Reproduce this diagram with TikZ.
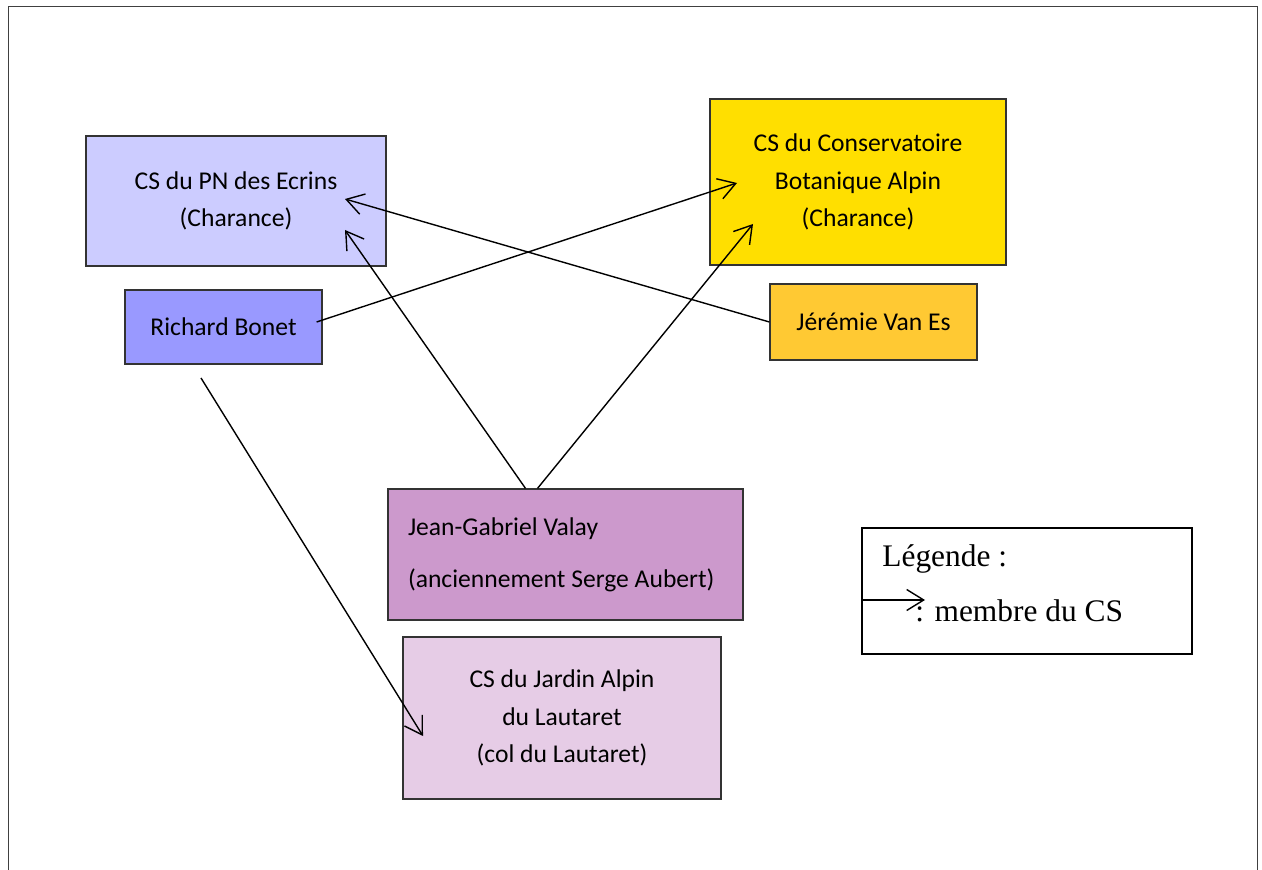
\documentclass[tikz,border=0pt]{standalone}
\usepackage{fontspec}
\setmainfont{Carlito}
\newfontfamily\legendfont{Liberation Serif}
\definecolor{ecrins}{HTML}{CCCCFF}
\definecolor{bonet}{HTML}{9999FF}
\definecolor{conserv}{HTML}{FFDF00}
\definecolor{jeremie}{HTML}{FFC933}
\definecolor{valay}{HTML}{CC99CC}
\definecolor{jardin}{HTML}{E6CCE6}
\usepackage{tikz}
\usetikzlibrary{
    arrows.meta,
    positioning,
}
\tikzset{>={Straight Barb[length=8.5pt,width=10.5pt]}}
\tikzset{
    box/.style={draw=black!80,line width=0.6pt,align=center,inner sep=0pt,
        font=\fontsize{12.8}{18.6}\selectfont},
    membre/.style={->,line width=0.7pt},
}

\begin{document}
\begin{tikzpicture}[x=0.5pt,y=-0.5pt]
            \useasboundingbox (0,0) rectangle (1262,870);
            \draw[black!75,line width=0.5pt] (8,870) -- (8,7) -- (1257,7) -- (1257,870);
            \node[box,fill=ecrins,minimum width=150pt,minimum height=65pt] (ecrins) at (236,201) {CS du PN des Ecrins\\(Charance)};
            \node[box,fill=bonet,minimum width=98.5pt,minimum height=37pt] (bonet) at (223.5,327) {Richard Bonet};
            \node[box,fill=conserv,minimum width=148pt,minimum height=83pt] (conserv) at (858,182) {CS du Conservatoire\\Botanique Alpin\\(Charance)};
            \node[box,fill=jeremie,minimum width=103.5pt,minimum height=38pt] (jeremie) at (873.5,322) {Jérémie Van Es};
            \node[box,fill=valay,minimum width=177.5pt,minimum height=65.5pt,align=flush left,text width=157.5pt,inner xsep=10pt] (valay) at (565.5,554.5) {Jean-Gabriel Valay\\[7.5pt](anciennement Serge Aubert)};
            \node[box,fill=jardin,minimum width=159pt,minimum height=81pt] (jardin) at (562,718) {CS du Jardin Alpin\\du Lautaret\\(col du Lautaret)};
            % legende
            \node[draw=black,line width=0.6pt,fill=white,minimum width=165pt,minimum height=63pt] (legend) at (1027,591) {};
            \node[anchor=west,inner sep=0pt,font=\legendfont\fontsize{15.7}{18}\selectfont] (legtitle) at (882,559) {Légende :};
            \node[anchor=west,inner sep=0pt,font=\legendfont\fontsize{15.7}{18}\selectfont] (legtext) at (915,611) {: membre du CS};
            \coordinate (legA) at (862,600);
            \coordinate (legB) at (925,600);
            \draw[membre] (legA) -- (legB);
            % membres
            \coordinate (ecrinsA) at (345,199);
            \coordinate (ecrinsB) at (345,230);
            \coordinate (conservA) at (737,183);
            \coordinate (conservB) at (753,224);
            \coordinate (bonetB) at (201,378);
            \coordinate (jardinA) at (423,736);
            \draw[membre] ([xshift=-3pt,yshift=2.5pt]bonet.east) -- (conservA);
            \draw[membre] (jeremie.west) -- (ecrinsA);
            \draw[membre] ([xshift=-20pt]valay.north) -- (ecrinsB);
            \draw[membre] ([xshift=-14pt]valay.north) -- (conservB);
            \draw[membre] (bonetB) -- (jardinA);
        \end{tikzpicture}
\end{document}
